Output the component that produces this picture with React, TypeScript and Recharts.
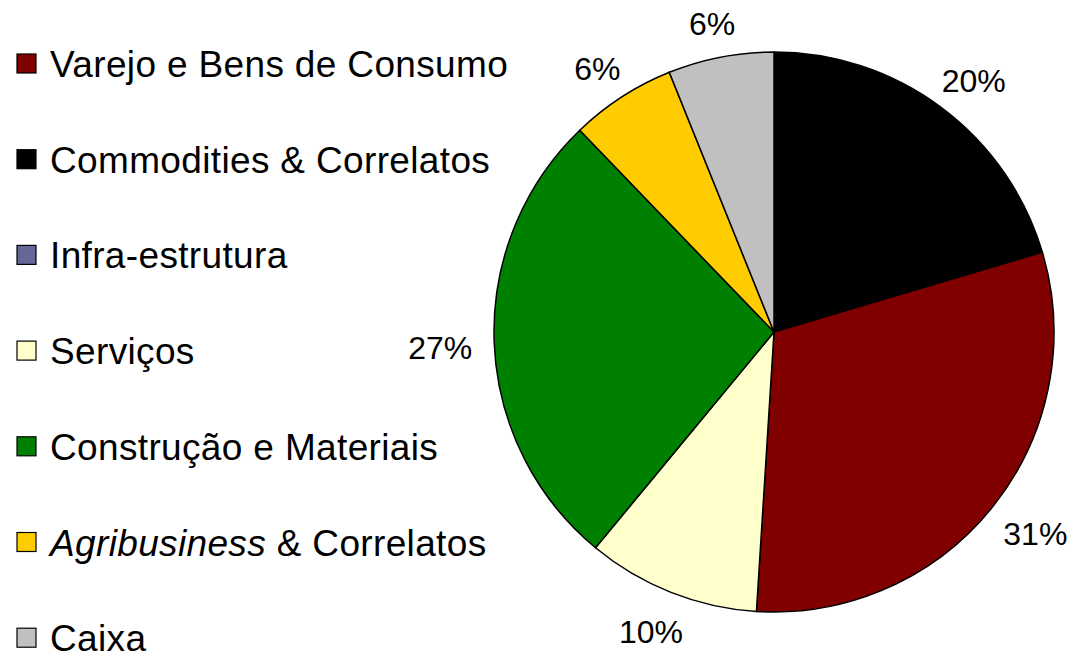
import React from "react";
import { PieChart, Pie, Cell } from "recharts";

// Pie slices, clockwise from 12 o'clock
const SLICE_NAMES = [
  "Commodities & Correlatos",
  "Varejo e Bens de Consumo",
  "Serviços",
  "Construção e Materiais",
  "Agribusiness & Correlatos",
  "Caixa",
];
const SLICE_VALUES = [20.4, 30.6, 10.0, 26.8, 6.1, 6.1];
const SLICE_COLORS = ["#000000", "#800000", "#FFFFCC", "#008000", "#FFCC00", "#C0C0C0"];

// Legend order (Infra-estrutura has no slice)
const LEGEND_NAMES = [
  "Varejo e Bens de Consumo",
  "Commodities & Correlatos",
  "Infra-estrutura",
  "Serviços",
  "Construção e Materiais",
  "Agribusiness & Correlatos",
  "Caixa",
];
const LEGEND_COLORS = ["#800000", "#000000", "#666699", "#FFFFCC", "#008000", "#FFCC00", "#C0C0C0"];

const FONT = '"Liberation Sans", Arial, sans-serif';
const LABEL_SIZE = 32;

const data = SLICE_NAMES.map((name, i) => ({ name, value: SLICE_VALUES[i] }));

function renderLabel(props: any) {
  const { cx, cy, midAngle, outerRadius, value } = props;
  const rad = Math.PI / 180;
  const cos = Math.cos(-midAngle * rad);
  const sin = Math.sin(-midAngle * rad);
  const text = `${Math.round(value)}%`;
  const halfW = (text.length === 3 ? 64 : 46) / 2;
  const gap = 22;
  const x = cx + (outerRadius + gap) * cos + halfW * cos;
  const y = cy + (outerRadius + gap) * sin + (LABEL_SIZE / 2) * sin;
  return (
    <text
      x={x}
      y={y + 15}
      textAnchor="middle"
      fill="#000"
      fontSize={LABEL_SIZE}
      fontFamily={FONT}
    >
      {text}
    </text>
  );
}

function LegendBlock() {
  return (
    <svg width={530} height={655} style={{ position: "absolute", left: 0, top: 0 }}>
      {LEGEND_NAMES.map((name, i) => {
        const base = 77 + i * 95.7;
        const italic = name.startsWith("Agribusiness");
        return (
          <g key={name}>
            <rect
              x={17}
              y={base - 23}
              width={19}
              height={19}
              fill={LEGEND_COLORS[i]}
              stroke="#000"
              strokeWidth={1.2}
            />
            <text
              x={50}
              y={base}
              fontSize={37}
              letterSpacing={0.35}
              fontFamily={FONT}
              fill="#000"
            >
              {italic ? (
                <>
                  <tspan fontStyle="italic">Agribusiness</tspan>
                  <tspan>{name.slice("Agribusiness".length)}</tspan>
                </>
              ) : (
                name
              )}
            </text>
          </g>
        );
      })}
    </svg>
  );
}

export default function App() {
  return (
    <div
      style={{
        position: "absolute",
        left: 0,
        top: 0,
        width: 1090,
        height: 655,
        background: "#fff",
        overflow: "hidden",
      }}
    >
      <PieChart width={1090} height={655} margin={{ top: 0, right: 0, bottom: 0, left: 0 }}>
        <Pie
          data={data}
          dataKey="value"
          nameKey="name"
          cx={774}
          cy={332}
          outerRadius={280}
          startAngle={90}
          endAngle={-270}
          labelLine={false}
          label={renderLabel}
          isAnimationActive={false}
        >
          {data.map((d, i) => (
            <Cell key={d.name} fill={SLICE_COLORS[i]} stroke="#000" strokeWidth={1.5} />
          ))}
        </Pie>
      </PieChart>
      <LegendBlock />
    </div>
  );
}
